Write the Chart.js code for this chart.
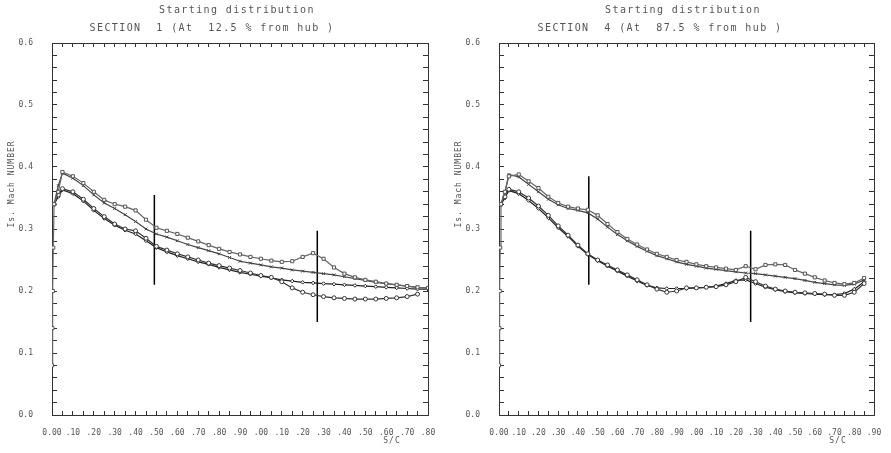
<!DOCTYPE html>
<html>
<head>
<meta charset="utf-8">
<script src="https://cdn.jsdelivr.net/npm/chart.js@4.4.1/dist/chart.umd.min.js"></script>
<style>
  html, body { margin: 0; padding: 0; background: #fff; }
  #wrap { position: relative; width: 891px; height: 453px; }
  canvas { position: absolute; top: 0; }
  #sec1 { left: 0; }
  #sec4 { left: 445px; }
</style>
</head>
<body>
<div id="wrap">
  <canvas id="sec1" width="445" height="453"></canvas>
  <canvas id="sec4" width="446" height="453"></canvas>
</div>
<script>
// S/C stations along the surface
const sSec1 = [0, 0.002, 0.004, 0.006, 0.01, 0.03, 0.05, 0.10, 0.15, 0.20, 0.25, 0.30, 0.35, 0.40, 0.45,
  0.50, 0.55, 0.60, 0.65, 0.70, 0.75, 0.80, 0.85, 0.90, 0.95, 1.00, 1.05, 1.10, 1.15, 1.20, 1.25,
  1.30, 1.35, 1.40, 1.45, 1.50, 1.55, 1.60, 1.65, 1.70, 1.75, 1.80];
const sSec4 = sSec1.concat([1.85]);

// section 1 (12.5 % from hub), isentropic Mach number
const sec1A = [0.08, 0.14, 0.20, 0.27, 0.34, 0.36, 0.392, 0.385, 0.374, 0.36, 0.347, 0.34, 0.336, 0.33, 0.315,
  0.302, 0.297, 0.292, 0.286, 0.28, 0.274, 0.268, 0.263, 0.259, 0.255, 0.252, 0.249, 0.247, 0.248, 0.255, 0.261,
  0.252, 0.238, 0.228, 0.222, 0.218, 0.215, 0.212, 0.21, 0.208, 0.206, 0.205];
const sec1B = [null, null, null, null, 0.34, 0.37, 0.39, 0.382, 0.37, 0.355, 0.342, 0.333, 0.323, 0.312, 0.30,
  0.292, 0.287, 0.281, 0.275, 0.27, 0.265, 0.26, 0.254, 0.248, 0.245, 0.242, 0.239, 0.237, 0.234, 0.232, 0.23,
  0.228, 0.226, 0.223, 0.22, 0.217, 0.214, 0.212, 0.21, 0.208, 0.206, 0.205];
const sec1C = [null, null, null, null, 0.34, 0.355, 0.365, 0.36, 0.348, 0.333, 0.32, 0.308, 0.30, 0.297, 0.285,
  0.272, 0.266, 0.26, 0.255, 0.25, 0.245, 0.241, 0.237, 0.233, 0.229, 0.225, 0.222, 0.215, 0.205, 0.198, 0.194,
  0.191, 0.189, 0.188, 0.187, 0.187, 0.187, 0.188, 0.189, 0.191, 0.195, null];
const sec1D = [null, null, null, null, 0.34, 0.352, 0.363, 0.357, 0.345, 0.33, 0.317, 0.306, 0.298, 0.292, 0.281,
  0.27, 0.263, 0.257, 0.252, 0.247, 0.243, 0.238, 0.234, 0.23, 0.227, 0.224, 0.221, 0.218, 0.216, 0.214, 0.213,
  0.212, 0.211, 0.21, 0.209, 0.208, 0.207, 0.206, 0.205, 0.204, 0.203, 0.203];

// section 4 (87.5 % from hub)
const sec4A = [0.08, 0.14, 0.20, 0.27, 0.34, 0.36, 0.385, 0.388, 0.377, 0.366, 0.352, 0.342, 0.336, 0.333, 0.331,
  0.322, 0.308, 0.295, 0.284, 0.275, 0.267, 0.26, 0.255, 0.25, 0.247, 0.243, 0.24, 0.238, 0.236, 0.234, 0.24,
  0.235, 0.242, 0.243, 0.242, 0.234, 0.228, 0.222, 0.217, 0.213, 0.211, 0.213, 0.221];
const sec4B = [null, null, null, null, 0.34, 0.36, 0.388, 0.384, 0.372, 0.36, 0.348, 0.339, 0.333, 0.33, 0.326,
  0.316, 0.303, 0.291, 0.281, 0.272, 0.264, 0.257, 0.252, 0.247, 0.243, 0.24, 0.237, 0.235, 0.233, 0.231, 0.229,
  0.228, 0.226, 0.224, 0.222, 0.22, 0.217, 0.214, 0.212, 0.21, 0.209, 0.211, 0.218];
const sec4C = [null, null, null, null, 0.34, 0.352, 0.364, 0.36, 0.35, 0.337, 0.322, 0.305, 0.29, 0.274, 0.26,
  0.25, 0.242, 0.234, 0.226, 0.218, 0.21, 0.203, 0.198, 0.20, 0.205, 0.205, 0.206, 0.207, 0.21, 0.215, 0.222,
  0.215, 0.208, 0.203, 0.20, 0.198, 0.197, 0.196, 0.195, 0.193, 0.193, 0.198, 0.212];
const sec4D = [null, null, null, null, 0.34, 0.35, 0.362, 0.357, 0.346, 0.333, 0.318, 0.302, 0.288, 0.272, 0.259,
  0.249, 0.24, 0.232, 0.224, 0.216, 0.209, 0.205, 0.204, 0.204, 0.204, 0.205, 0.206, 0.208, 0.212, 0.217, 0.218,
  0.212, 0.206, 0.202, 0.199, 0.197, 0.196, 0.195, 0.194, 0.194, 0.196, 0.203, 0.215];

// vertical marker lines: S/C position, upper and lower Mach
const cutS1 = [0.49, 1.27], cutTop1 = [0.355, 0.297], cutBot1 = [0.21, 0.15];
const cutS4 = [0.455, 1.275], cutTop4 = [0.385, 0.297], cutBot4 = [0.21, 0.15];

const MONO = '"DejaVu Sans Mono", monospace';

function isStep(v, step) {
  return Math.abs(v / step - Math.round(v / step)) < 1e-6;
}
function sLabel(v) {
  if (v < 1e-9) return '0.00';
  return '.' + String(Math.round(v * 100) % 100).padStart(2, '0');
}

// headings and axis titles
const panelText = {
  id: 'panelText',
  afterDraw(chart, args, o) {
    const { ctx, chartArea: a } = chart;
    ctx.save();
    ctx.fillStyle = '#555';
    ctx.textAlign = 'center';
    ctx.textBaseline = 'middle';
    ctx.font = '10px ' + MONO;
    ctx.letterSpacing = '1.4px';
    ctx.fillText(o.line1, o.x1, 10);
    ctx.fillText(o.line2, o.x2, 28);
    ctx.font = '8px ' + MONO;
    ctx.letterSpacing = '1px';
    ctx.fillText('S/C', a.right - 36, 441);
    ctx.translate(a.left - 40, 184);
    ctx.rotate(-Math.PI / 2);
    ctx.fillText('Is. Mach NUMBER', 0, 0);
    ctx.restore();
  }
};

function frameGrid(len) {
  return { drawOnChartArea: false, drawTicks: true, tickLength: len, color: '#333', lineWidth: 1 };
}

// fixed axis band sizes, no extra room for overhanging end labels
function fixSize(prop, size) {
  return sc => {
    sc[prop] = size;
    sc.paddingLeft = sc.paddingRight = 0;
  };
}

function buildChart(id, s, series, cutS, cutTop, cutBot, sMax, yWidth, head) {
  const pts = ys => s.map((v, i) => ({ x: v, y: ys[i] }));
  const styles = [
    { borderColor: '#666', pointStyle: 'rect', pointRadius: 2.2, pointBorderColor: '#555', pointBackgroundColor: '#fff' },
    { borderColor: '#444', pointStyle: 'crossRot', pointRadius: 2, pointBorderColor: '#444', pointBackgroundColor: '#444' },
    { borderColor: '#333', pointStyle: 'circle', pointRadius: 2, pointBorderColor: '#333', pointBackgroundColor: '#fff' },
    { borderColor: '#222', pointStyle: 'rectRot', pointRadius: 1.8, pointBorderColor: '#222', pointBackgroundColor: '#fff' }
  ];
  const datasets = series.map((ys, k) => Object.assign({
    data: pts(ys), borderWidth: 1.2, pointBorderWidth: 1, spanGaps: false
  }, styles[k]));
  cutS.forEach((v, i) => {
    datasets.push({
      data: [{ x: v, y: cutTop[i] }, { x: v, y: cutBot[i] }],
      borderColor: '#000', borderWidth: 1.5, pointRadius: 0
    });
  });

  const tickFont = { family: MONO, size: 8 };
  return new Chart(document.getElementById(id), {
    type: 'line',
    data: { datasets },
    plugins: [panelText],
    options: {
      responsive: false,
      animation: false,
      devicePixelRatio: 1,
      layout: { padding: { left: 0, top: 43, right: 17, bottom: 0 } },
      plugins: {
        legend: { display: false },
        tooltip: { enabled: false },
        panelText: head
      },
      scales: {
        x: {
          type: 'linear', position: 'bottom', min: 0, max: sMax,
          afterFit: fixSize('height', 38),
          border: { color: '#333', width: 1 },
          grid: frameGrid(-4),
          ticks: {
            stepSize: 0.05, autoSkip: false, maxRotation: 0, minRotation: 0, padding: 17,
            color: '#555', font: tickFont,
            callback: v => isStep(v, 0.1) ? sLabel(v) : ''
          }
        },
        x2: {
          type: 'linear', position: 'top', min: 0, max: sMax,
          afterFit: fixSize('height', 0),
          border: { color: '#333', width: 1 },
          grid: frameGrid(-4),
          ticks: { stepSize: 0.05, autoSkip: false, maxRotation: 0, font: tickFont, callback: () => '' }
        },
        y: {
          type: 'linear', position: 'left', min: 0, max: 0.6,
          afterFit: fixSize('width', yWidth),
          border: { color: '#333', width: 1 },
          grid: frameGrid(-5),
          ticks: {
            stepSize: 0.02, autoSkip: false, padding: 24, color: '#555', font: tickFont,
            callback: v => isStep(v, 0.1) ? v.toFixed(1) : ''
          }
        },
        y2: {
          type: 'linear', position: 'right', min: 0, max: 0.6,
          afterFit: fixSize('width', 0),
          border: { color: '#333', width: 1 },
          grid: frameGrid(-5),
          ticks: { stepSize: 0.02, autoSkip: false, font: tickFont, callback: () => '' }
        }
      }
    }
  });
}

buildChart('sec1', sSec1, [sec1A, sec1B, sec1C, sec1D], cutS1, cutTop1, cutBot1, 1.8, 52, {
  line1: 'Starting distribution', x1: 237,
  line2: 'SECTION  1 (At  12.5 % from hub )', x2: 212
});
buildChart('sec4', sSec4, [sec4A, sec4B, sec4C, sec4D], cutS4, cutTop4, cutBot4, 1.9, 54, {
  line1: 'Starting distribution', x1: 238,
  line2: 'SECTION  4 (At  87.5 % from hub )', x2: 215
});
</script>
</body>
</html>
